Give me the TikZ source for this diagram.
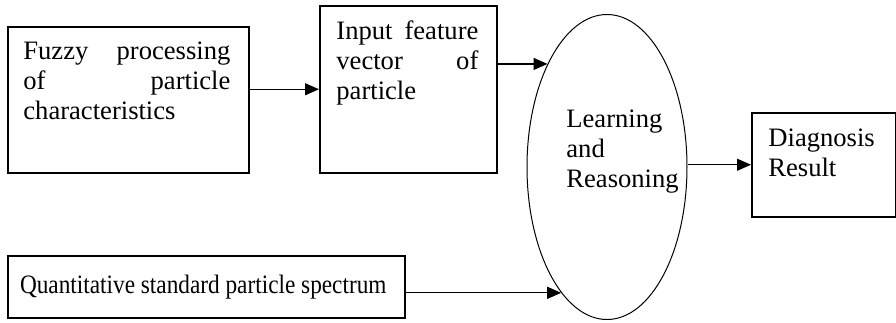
\documentclass[tikz,border=0pt]{standalone}
\usepackage{fontspec}
\setmainfont{Liberation Serif}
\usepackage{tikz}
\usetikzlibrary{positioning,shapes.geometric,arrows.meta}

\begin{document}
\begin{tikzpicture}[x=0.5pt,y=-0.5pt]
\tikzstyle{every node}+=[inner sep=0pt, font=\fontsize{13.3}{15}\selectfont]
\tikzstyle{blok}=[draw=black, line width=0.75pt, rectangle, anchor=north west]
\tikzstyle{txt}=[anchor=north west, align=justify]
\tikzstyle{lijst}=[anchor=north west, align=left]
\tikzstyle{pijl}=[draw=black, line width=0.6pt, -{Triangle[length=7pt,width=6pt]}]
\useasboundingbox (0,0) rectangle (896,322);
% boxes
\node [blok, minimum width=120.5pt, minimum height=73pt] (fuzzy) at (7,26) {};
\node [txt, text width=103.5pt] (fuzzytxt) at ([shift={(16,15)}]fuzzy.north west)
  {Fuzzy processing\linebreak of particle\linebreak characteristics};
\node [blok, minimum width=88.5pt, minimum height=83.5pt] (input) at (319,5) {};
\node [txt, text width=71pt] (inputtxt) at ([shift={(17,15)}]input.north west)
  {Input feature\linebreak vector of\linebreak particle};
\node [draw=black, line width=0.5pt, ellipse, minimum width=80pt, minimum height=152.5pt] (learn) at (607,167) {};
\node [lijst] (learntxt) at (566,109) {Learning\\and\\Reasoning};
\node [blok, minimum width=72pt, minimum height=52pt] (diag) at (751,112) {};
\node [lijst] (diagtxt) at ([shift={(17,16)}]diag.north west) {Diagnosis\\Result};
\node [blok, minimum width=198.5pt, minimum height=31pt] (quant) at (7,255) {};
\node [xscale=0.875] (quanttxt) at ([xshift=-1.5pt]quant.center) {Quantitative standard particle spectrum};
% arrows
\draw [pijl] (fuzzy.east |- input.west) -- (input.west);
\draw [pijl] (input.east |- learn.120) -- (learn.120);
\draw [pijl] (quant.east |- learn.250) -- (learn.250);
\draw [pijl] (learn.east |- diag.west) -- (diag.west);
\end{tikzpicture}
\end{document}
